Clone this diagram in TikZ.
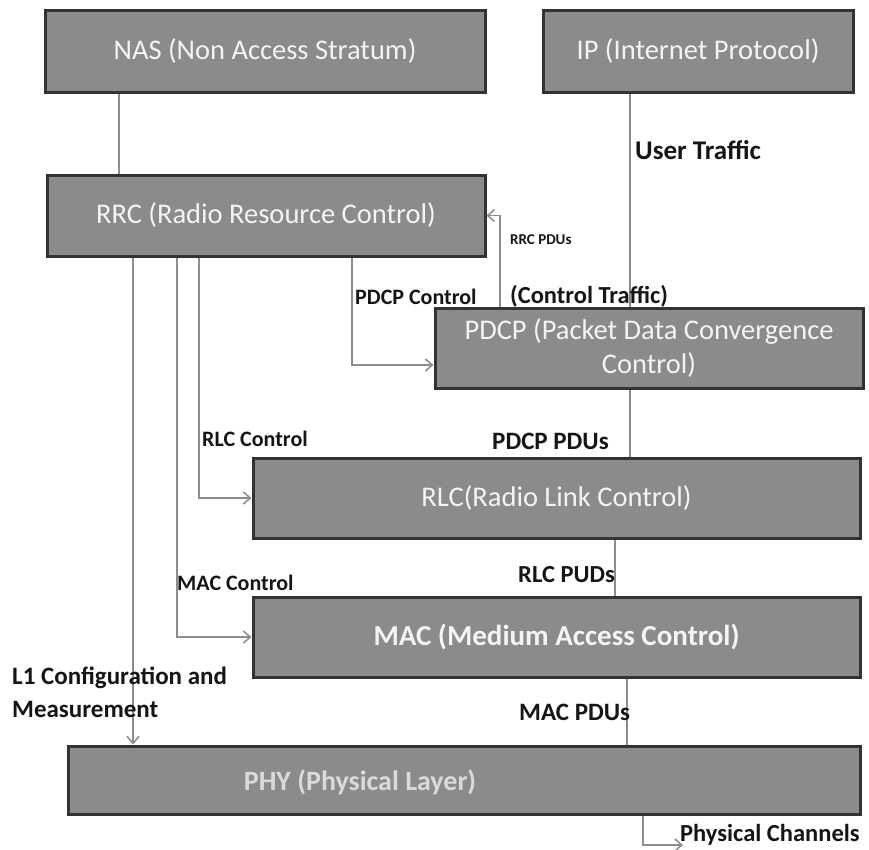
\documentclass[tikz,border=0pt]{standalone}
\usepackage{fontspec}
\setmainfont{Carlito}
\usetikzlibrary{arrows.meta}
\definecolor{boxfill}{HTML}{8B8B8B}
\definecolor{boxedge}{HTML}{333333}
\definecolor{wirecol}{HTML}{8C8C8C}
\definecolor{boxtxt}{HTML}{F4F4F4}
\definecolor{phytxt}{HTML}{DADADA}
\definecolor{labtxt}{HTML}{151515}
\tikzset{
  layer/.style={draw=boxedge, line width=3pt, fill=boxfill, text=boxtxt,
    inner sep=0pt, align=center, font=\fontsize{28.5}{34}\selectfont},
  wire/.style={draw=wirecol, line width=1.5pt},
  feed/.style={wire, -{Straight Barb[length=7pt,width=12pt]}},
  tag/.style={text=labtxt, inner sep=0pt, anchor=west,
    font=\bfseries\fontsize{#1}{#1}\selectfont},
  tag/.default=24,
}
\begin{document}
\begin{tikzpicture}[x=1pt,y=-1pt]
\useasboundingbox (0,0) rectangle (869,849);
\fill[white] (0,0) rectangle (869,849);

% protocol layers
\node[layer, minimum width=440pt, minimum height=82pt] (nas) at (265,51) {NAS (Non Access Stratum)};
\node[layer, minimum width=310pt, minimum height=82pt] (ip) at (698,51) {IP (Internet Protocol)};
\node[layer, minimum width=438pt, minimum height=81pt] (rrc) at (266,215.5) {RRC (Radio Resource Control)};
\node[layer, minimum width=428pt, minimum height=80pt] (pdcp) at (649,348) {PDCP (Packet Data Convergence\\Control)};
\node[layer, minimum width=607pt, minimum height=80pt] (rlc) at (556.5,498) {RLC(Radio Link Control)};
\node[layer, minimum width=607pt, minimum height=80pt, font=\bfseries\fontsize{29}{34}\selectfont] (mac) at (556.5,637) {MAC (Medium Access Control)};
\node[layer, minimum width=792pt, minimum height=68pt] (phy) at (464,780) {};
\node[text=phytxt, inner sep=0pt, font=\bfseries\fontsize{28}{34}\selectfont] (phyname) at (360,782) {PHY (Physical Layer)};

% x positions of the vertical runs
\coordinate (kNas) at (119,0);
\coordinate (kUser) at (630,0);
\coordinate (kUp) at (500,0);
\coordinate (kPd) at (352,0);
\coordinate (kPdRow) at (0,365);
\coordinate (kRl) at (199,0);
\coordinate (kMa) at (177,0);
\coordinate (kL1) at (133,0);
\coordinate (kRp) at (615,0);
\coordinate (kMp) at (627,0);
\coordinate (kCh) at (643,0);
\coordinate (chanEnd) at (683,845);

% connectors
\draw[wire] (nas.south -| kNas) -- (rrc.north -| kNas);
\draw[wire] (ip.south -| kUser) -- (pdcp.north -| kUser);
\draw[feed] (pdcp.north -| kUp) |- (rrc.east);
\draw[feed] (rrc.south -| kPd) |- (pdcp.west |- kPdRow);
\draw[feed] (rrc.south -| kRl) |- (rlc.west);
\draw[feed] (rrc.south -| kMa) |- (mac.west);
\draw[feed] (rrc.south -| kL1) -- (phy.north -| kL1);
\draw[wire] (pdcp.south -| kUser) -- (rlc.north -| kUser);
\draw[wire] (rlc.south -| kRp) -- (mac.north -| kRp);
\draw[wire] (mac.south -| kMp) -- (phy.north -| kMp);
\draw[feed] (phy.south -| kCh) |- (chanEnd);

% connector labels
\node[tag=27] (usr) at (635,150) {User Traffic};
\node[tag=15] (rrcpdu) at (510,240) {RRC PDUs};
\node[tag=22] (pdcpctl) at (355,297) {PDCP Control};
\node[tag=24.5] (ctltr) at (510,296) {(Control Traffic)};
\node[tag=25] (pdcppdu) at (492,441) {PDCP PDUs};
\node[tag=22] (rlcctl) at (202,439) {RLC Control};
\node[tag=24.5] (rlcpdu) at (518,575) {RLC PUDs};
\node[tag=22] (macctl) at (177,583) {MAC Control};
\node[tag=25] (macpdu) at (519,712) {MAC PDUs};
\node[tag=25, align=left, font=\bfseries\fontsize{25}{33}\selectfont] (l1) at (12,692) {L1 Configuration and\\Measurement};
\node[tag=24.5] (chan) at (680,835) {Physical Channels};
\end{tikzpicture}
\end{document}
